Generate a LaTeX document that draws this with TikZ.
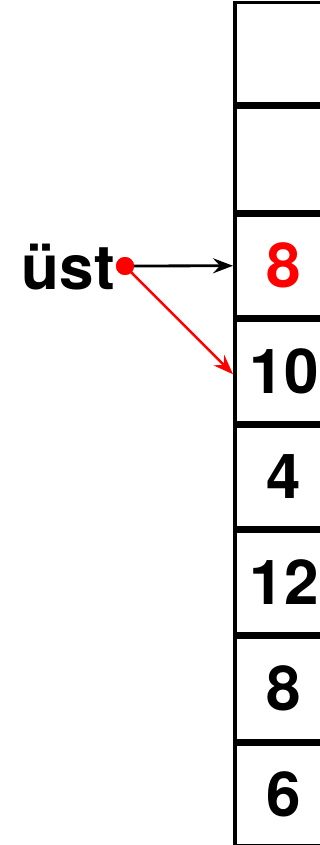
\documentclass[tikz,border=0pt]{standalone}
\usepackage{fontspec}
\setmainfont{TeX Gyre Heros}
\usetikzlibrary{arrows.meta}
\definecolor{myred}{RGB}{255,0,0}
\begin{document}
\begin{tikzpicture}[x=1pt,y=-1pt,
  cell/.style={draw, line width=3.5pt, minimum width=98.5pt, inner sep=0pt,
    font=\fontsize{62}{68}\selectfont\bfseries},
  ptr/.style={line width=2.8pt, -{Stealth[length=20pt,width=15pt,inset=7pt]}}]
\useasboundingbox (0,0) rectangle (320,845);
\clip (0,0) rectangle (320,845);
\node[cell, minimum height=101.5pt] (c1) at (284,53.5) {};
\node[cell, minimum height=103.5pt] (c2) at (284,159.5) {};
\node[cell, minimum height=102pt] (c3) at (284,265.75) {\textcolor{myred}{8}};
\node[cell, minimum height=102pt] (c4) at (284,371.25) {10};
\node[cell, minimum height=101.5pt] (c5) at (284,476.5) {4};
\node[cell, minimum height=102.5pt] (c6) at (284,582) {12};
\node[cell, minimum height=103.5pt] (c7) at (284,688.5) {8};
\node[cell, minimum height=101.5pt] (c8) at (284,794.5) {6};
\node[font=\fontsize{62}{68}\selectfont\bfseries, inner sep=0pt, anchor=base east] (lbl) at (115,289) {üst};
\node[circle, fill=myred, minimum size=18pt, inner sep=0pt] (dot) at (125,266) {};
\draw[ptr, black] (dot.center) -- (c3.west);
\draw[ptr, myred, line width=2.5pt] (dot.center) -- ([yshift=-3pt]c4.west);
\node[circle, fill=myred, minimum size=18pt, inner sep=0pt] at (dot) {};
\end{tikzpicture}
\end{document}
